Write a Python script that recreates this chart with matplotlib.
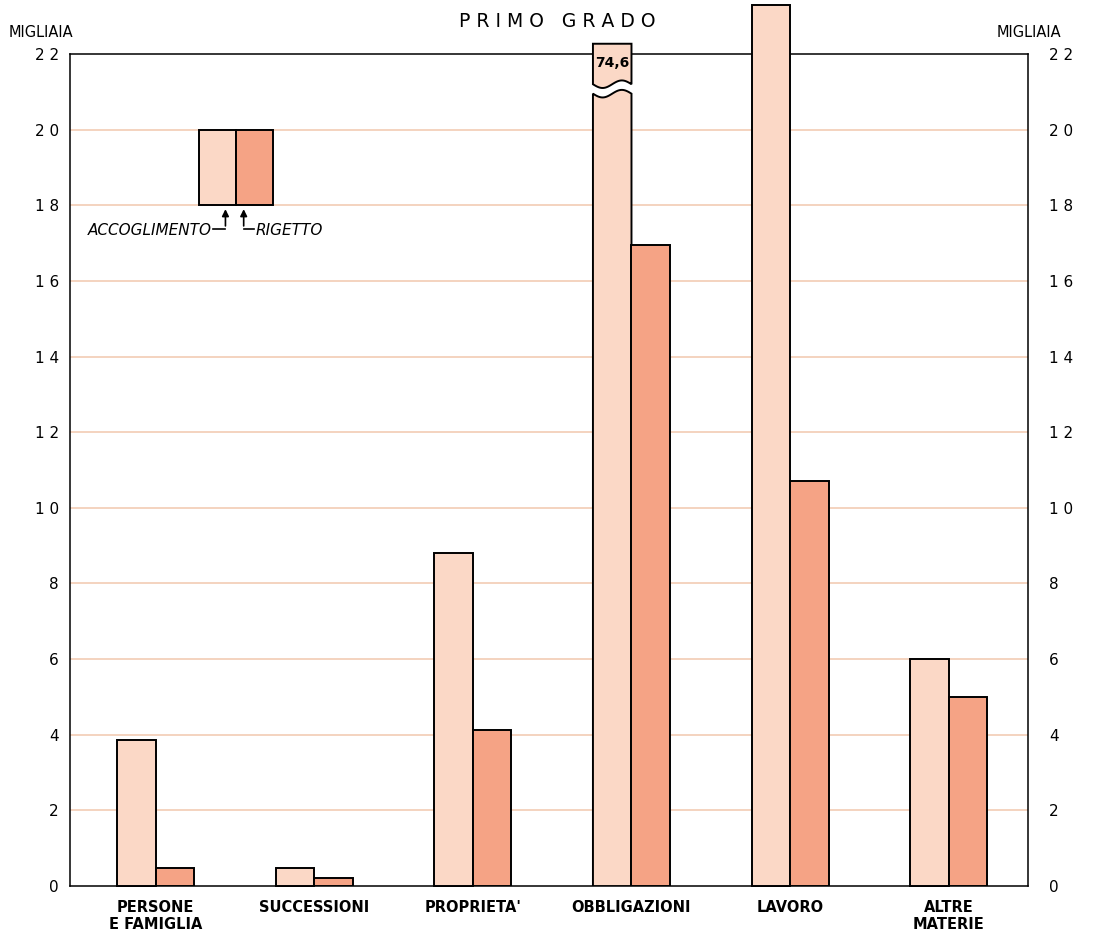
"""Primo grado: accoglimento e rigetto per materia (migliaia)."""

import matplotlib.pyplot as plt
import numpy as np
from matplotlib.patches import Polygon, Rectangle

categorie = ["PERSONE\nE FAMIGLIA", "SUCCESSIONI", "PROPRIETA'",
             "OBBLIGAZIONI", "LAVORO", "ALTRE\nMATERIE"]
accoglimento = [3.85, 0.48, 8.8, 74.6, 23.3, 6.0]
rigetto = [0.48, 0.22, 4.13, 16.95, 10.7, 5.0]
yticks = list(range(0, 23, 2))

c_acc = "#fbd8c6"
c_rig = "#f5a385"
c_grid = "#f1c7ae"
ymax = 22

fig = plt.figure(figsize=(10.99, 9.40), dpi=100)
ax = fig.add_axes([0.0637, 0.0574, 0.8717, 0.8852])
ax.set_xlim(-0.54, 5.5)
ax.set_ylim(0, ymax)

w = 0.243
x = np.arange(len(categorie))

for y in yticks[1:-1]:
    ax.axhline(y, color=c_grid, lw=1.1, zorder=0)


def onda(x0, x1, ybase, amp=0.1, n=40):
    t = np.linspace(0, 1, n)
    return x0 + (x1 - x0) * t, ybase + amp * np.sin(2 * np.pi * t + np.pi)


for xi, va, vr in zip(x, accoglimento, rigetto):
    x0 = xi - w
    if va > 2 * ymax:
        # barra interrotta con il valore scritto sopra
        xs, ys = onda(x0, xi, 20.95)
        pts = [(x0, 0)] + list(zip(xs, ys)) + [(xi, 0)]
        ax.add_patch(Polygon(pts, closed=True, fc=c_acc, ec="black",
                             lw=1.4, zorder=3))
        xs, ys = onda(x0, xi, 21.2)
        pts = list(zip(xs, ys)) + [(xi, 22.27), (x0, 22.27)]
        ax.add_patch(Polygon(pts, closed=True, fc=c_acc, ec="black",
                             lw=1.4, zorder=3, clip_on=False))
        ax.text(xi - w / 2, 21.75, f"{va:.1f}".replace(".", ","),
                ha="center", va="center", fontsize=10, fontweight="bold",
                zorder=4)
    else:
        ax.add_patch(Rectangle((x0, 0), w, va, fc=c_acc, ec="black",
                               lw=1.4, zorder=3, clip_on=False))
    ax.add_patch(Rectangle((xi, 0), w, vr, fc=c_rig, ec="black",
                           lw=1.4, zorder=3))

# legenda disegnata a mano
ax.add_patch(Rectangle((0.273, 18), 0.234, 2, fc=c_acc, ec="black",
                       lw=1.4, zorder=3))
ax.add_patch(Rectangle((0.507, 18), 0.234, 2, fc=c_rig, ec="black",
                       lw=1.4, zorder=3))
freccia = dict(arrowstyle="-|>", color="black", lw=1.2, mutation_scale=10)
ax.annotate("", xy=(0.44, 17.97), xytext=(0.44, 17.38),
            arrowprops=freccia, zorder=4)
ax.plot([0.36, 0.44], [17.38, 17.38], color="black", lw=1.2, zorder=4)
ax.annotate("", xy=(0.555, 17.97), xytext=(0.555, 17.38),
            arrowprops=freccia, zorder=4)
ax.plot([0.555, 0.62], [17.38, 17.38], color="black", lw=1.2, zorder=4)
ax.text(0.355, 17.33, "ACCOGLIMENTO", ha="right", va="center",
        fontsize=11, style="italic")
ax.text(0.63, 17.33, "RIGETTO", ha="left", va="center",
        fontsize=11, style="italic")

for s in ax.spines.values():
    s.set_color("black")
    s.set_linewidth(1.1)


def etichetta(v):
    return " ".join(str(v)) if v >= 10 else str(v)


ax.set_xticks(x)
ax.set_xticklabels(categorie, fontsize=10.5, fontweight="bold",
                   linespacing=1.2)
ax.tick_params(axis="x", length=0, pad=10)
ax.set_yticks(yticks)
ax.set_yticklabels([etichetta(v) for v in yticks], fontsize=11)
ax.tick_params(axis="y", length=0, pad=8)

ax2 = ax.twinx()
ax2.set_ylim(0, ymax)
ax2.set_yticks(yticks)
ax2.set_yticklabels([etichetta(v) for v in yticks], fontsize=11)
ax2.tick_params(axis="y", length=0, pad=15)
for s in ax2.spines.values():
    s.set_visible(False)

fig.text(0.507, 0.9766, "P R I M O   G R A D O", ha="center", va="center",
         fontsize=13.5)
fig.text(0.008, 0.965, "MIGLIAIA", ha="left", va="center", fontsize=10.5)
fig.text(0.907, 0.965, "MIGLIAIA", ha="left", va="center", fontsize=10.5)

fig.savefig("out.png", dpi=100)
plt.close(fig)
